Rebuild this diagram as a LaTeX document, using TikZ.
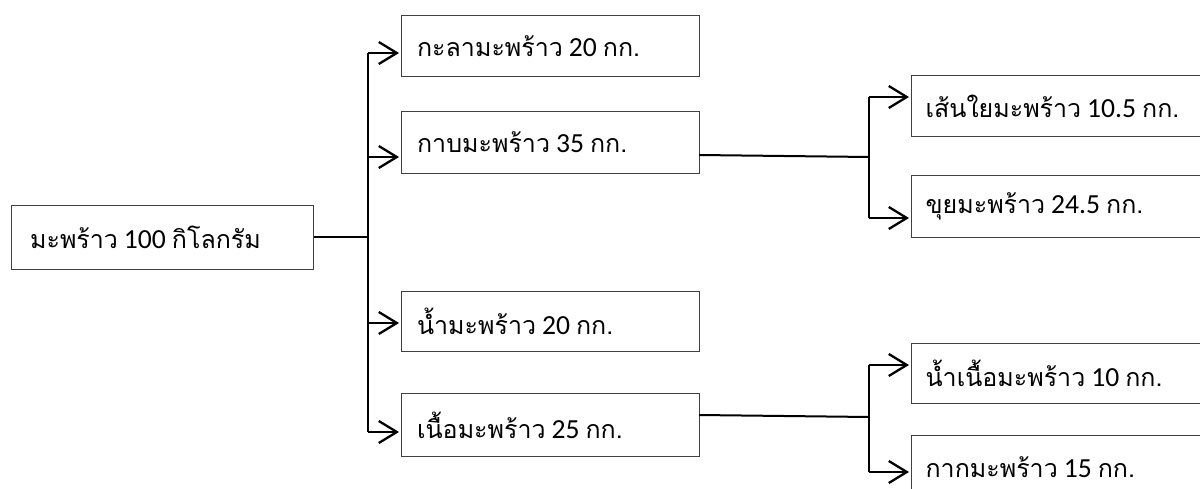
\documentclass[tikz,border=0pt]{standalone}
\usepackage{fontspec}
\newfontfamily\thaifont[Script=Thai]{Loma}
\newfontfamily\numfont{Carlito}
\usetikzlibrary{arrows.meta}
\tikzset{
  box/.style={draw=black!75, line width=1.2pt, anchor=north west, inner xsep=0pt, inner ysep=0pt,
    font=\fontsize{25}{29}\selectfont},
  conn/.style={line width=2pt, black},
  arr/.style={conn, -{Straight Barb[length=18pt,width=22pt,line width=2.3pt]}, shorten >=2pt},
}
\newcommand{\lbl}[3]{{\thaifont #1}\hspace{6pt}{\numfont\fontsize{27.6}{30}\selectfont #2}\hspace{6pt}{\thaifont #3}}
\begin{document}
\begin{tikzpicture}[x=1pt,y=-1pt]
\clip (0,0) rectangle (1200,489);
\fill[white] (0,0) rectangle (1200,489);
% boxes
\node[box, minimum width=302pt, minimum height=64pt, text width=285pt, align=left] (root) at (11,205) {\hspace*{10pt}\lbl{มะพร้าว}{100}{กิโลกรัม}};
\node[box, minimum width=298pt, minimum height=61pt, text width=281pt, align=left] (b1) at (401,15) {\hspace*{7pt}\lbl{กะลามะพร้าว}{20}{กก.}};
\node[box, minimum width=298pt, minimum height=62pt, text width=281pt, align=left] (b2) at (401,111) {\hspace*{7pt}\lbl{กาบมะพร้าว}{35}{กก.}};
\node[box, minimum width=298pt, minimum height=60pt, text width=281pt, align=left] (b3) at (401,291) {\hspace*{7pt}\lbl{น้ำมะพร้าว}{20}{กก.}};
\node[box, minimum width=298pt, minimum height=63pt, text width=281pt, align=left] (b4) at (401,393) {\hspace*{7pt}\lbl{เนื้อมะพร้าว}{25}{กก.}};
\node[box, minimum width=300pt, minimum height=61pt, text width=290pt, align=left] (b2a) at (911,75) {\hspace*{9pt}\lbl{เส้นใยมะพร้าว}{10.5}{กก.}};
\node[box, minimum width=300pt, minimum height=62pt, text width=290pt, align=left] (b2b) at (911,175) {\hspace*{9pt}\lbl{ขุยมะพร้าว}{24.5}{กก.}};
\node[box, minimum width=300pt, minimum height=60pt, text width=290pt, align=left] (b4a) at (911,343) {\hspace*{9pt}\lbl{น้ำเนื้อมะพร้าว}{10}{กก.}};
\node[box, minimum width=300pt, minimum height=64pt, text width=290pt, align=left] (b4b) at (911,435) {\hspace*{9pt}\lbl{กากมะพร้าว}{15}{กก.}};
% trunk coordinates
\coordinate (t0) at (368,237);
\coordinate (j1) at (368,53);
\coordinate (j2) at (368,157);
\coordinate (j3) at (368,323);
\coordinate (j4) at (368,432);
\coordinate (s2) at (699,155);
\coordinate (m2) at (869,157);
\coordinate (k1) at (869,97);
\coordinate (k2) at (869,218);
\coordinate (s4) at (699,415);
\coordinate (m4) at (869,417);
\coordinate (k3) at (869,365);
\coordinate (k4) at (869,472);
% connectors
\draw[conn] (root.east |- t0) -- (t0);
\draw[conn] (j1) -- (j4);
\draw[arr] (j1) -- (j1 -| b1.west);
\draw[arr] (j2) -- (j2 -| b2.west);
\draw[arr] (j3) -- (j3 -| b3.west);
\draw[arr] (j4) -- (j4 -| b4.west);
\draw[conn] (s2) -- (m2);
\draw[conn] (k1) -- (k2);
\draw[arr] (k1) -- (k1 -| b2a.west);
\draw[arr] (k2) -- (k2 -| b2b.west);
\draw[conn] (s4) -- (m4);
\draw[conn] (k3) -- (k4);
\draw[arr] (k3) -- (k3 -| b4a.west);
\draw[arr] (k4) -- (k4 -| b4b.west);
\end{tikzpicture}
\end{document}
